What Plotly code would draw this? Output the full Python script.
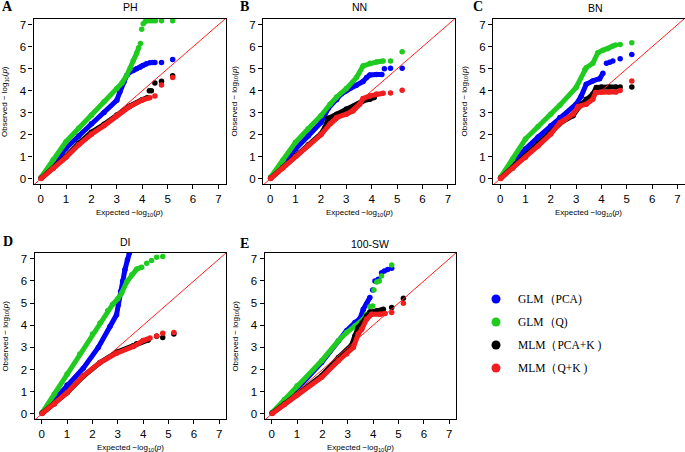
import plotly.graph_objects as go

# ---------------- data ----------------
TRAITS = ["PH", "NN", "BN", "DI", "100-SW"]
LETTERS = ["A", "B", "C", "D", "E"]
MODELS = ["GLM（PCA)", "GLM（Q)", "MLM（PCA+K )", "MLM（Q+K )"]
COLORS = ["#0000FF", "#1FCB1F", "#000000", "#F01E1E"]
TICKS = [0, 1, 2, 3, 4, 5, 6, 7]

# None separates the dense part of a QQ curve from isolated tail points
PH_X_GLM_PCA = [0.02, 0.5, 1, 1.5, 2, 2.5, 3, 3.12, 3.28, 3.39, 3.52, 3.65, 3.78, 3.91, 4.02, 4.17, None, 4.3, None, 4.4, None, 4.5, None, 4.76, None, 5.2]
PH_Y_GLM_PCA = [0.05, 0.68, 1.39, 1.95, 2.51, 3.02, 3.57, 3.95, 4.4, 4.7, 4.85, 4.92, 5.0, 5.07, 5.15, 5.23, None, 5.27, None, 5.28, None, 5.28, None, 5.28, None, 5.42]
PH_X_GLM_Q = [0.02, 0.5, 1, 1.5, 2, 2.5, 3, 3.2, 3.39, 3.52, 3.65, 3.78, 3.86, None, 3.93, None, 3.98, None, 4.04, None, 4.12, None, 4.22, None, 4.32, None, 4.42, None, 4.52, None, 4.76, None, 5.2]
PH_Y_GLM_Q = [0.08, 0.88, 1.69, 2.3, 2.89, 3.5, 4.1, 4.35, 4.7, 5.0, 5.38, 5.7, 5.95, None, 6.15, None, 6.8, None, 7.05, None, 7.15, None, 7.18, None, 7.18, None, 7.18, None, 7.18, None, 7.18, None, 7.18]
PH_X_MLM_PCA_K = [0.02, 0.5, 1, 1.5, 2, 2.5, 3, 3.5, 4, 4.2, None, 4.28, None, 4.36, None, 4.5, None, 4.76, None, 5.2]
PH_Y_MLM_PCA_K = [0.03, 0.5, 1.02, 1.62, 2.12, 2.48, 2.9, 3.3, 3.6, 3.68, None, 4.0, None, 4.0, None, 4.36, None, 4.43, None, 4.68]
PH_X_MLM_Q_K = [0.02, 0.5, 1, 1.5, 2, 2.5, 3, 3.5, 4, 4.3, None, 4.5, None, 4.76, None, 5.2]
PH_Y_MLM_Q_K = [0.02, 0.48, 0.98, 1.55, 2.03, 2.42, 2.86, 3.28, 3.58, 3.69, None, 3.77, None, 4.26, None, 4.6]

NN_X_GLM_PCA = [0.02, 0.5, 1, 1.5, 2, 2.29, 2.62, 2.8, 3.0, 3.4, 3.66, 3.8, 3.93, 4.19, 4.4, None, 4.5, None, 4.74, None, 5.2]
NN_Y_GLM_PCA = [0.05, 0.7, 1.36, 1.95, 2.56, 3.2, 3.6, 3.85, 4.0, 4.25, 4.42, 4.6, 4.72, 4.74, 4.74, None, 5.0, None, 5.02, None, 5.02]
NN_X_GLM_Q = [0.02, 0.5, 1, 1.5, 2, 2.36, 2.62, 3.0, 3.4, 3.66, 3.93, 4.19, 4.45, None, 4.74, None, 5.2]
NN_Y_GLM_Q = [0.08, 0.85, 1.66, 2.28, 2.87, 3.39, 3.72, 4.1, 4.6, 5.13, 5.25, 5.31, 5.35, None, 5.35, None, 5.77]
NN_X_MLM_PCA_K = [0.02, 0.5, 1, 1.5, 2, 2.16, 2.29, 2.62, 3.0, 3.4, 3.66, 3.93, 4.1]
NN_Y_MLM_PCA_K = [0.03, 0.52, 1.06, 1.55, 2.04, 2.34, 2.75, 2.94, 3.17, 3.35, 3.54, 3.62, 3.7]
NN_X_MLM_Q_K = [0.02, 0.5, 1, 1.5, 2, 2.36, 2.62, 3.0, 3.27, 3.53, 3.66, 3.93, 4.19, 4.45, None, 4.74, None, 5.2]
NN_Y_MLM_Q_K = [0.02, 0.5, 1.02, 1.52, 2.0, 2.5, 2.79, 2.94, 3.09, 3.39, 3.65, 3.77, 3.85, 3.89, None, 3.9, None, 4.03]

BN_X_GLM_PCA = [0.02, 0.5, 1, 1.5, 2, 2.36, 3.0, 3.2, 3.4, 3.66, 3.93, 4.06, None, 4.2, None, 4.33, None, 4.45, None, 4.74, None, 5.2]
BN_Y_GLM_PCA = [0.05, 0.68, 1.36, 1.9, 2.41, 2.79, 3.39, 3.75, 4.3, 4.45, 4.55, 4.8, None, 5.25, None, 5.3, None, 5.35, None, 5.45, None, 5.65]
BN_X_GLM_Q = [0.02, 0.5, 1, 1.5, 2, 2.36, 3.0, 3.34, 3.4, 3.66, 3.86, 4.06, 4.25, 4.45, None, 4.56, None, 4.74, None, 5.2]
BN_Y_GLM_Q = [0.08, 0.9, 1.81, 2.38, 2.94, 3.35, 4.15, 4.95, 5.05, 5.25, 5.73, 5.84, 5.91, 6.03, None, 6.08, None, 6.1, None, 6.18]
BN_X_MLM_PCA_K = [0.02, 0.5, 1, 1.5, 2, 2.36, 2.88, 3.14, 3.4, 3.66, 3.8, 4.0, 4.3, 4.58, None, 4.74, None, 5.2]
BN_Y_MLM_PCA_K = [0.03, 0.52, 1.06, 1.6, 2.11, 2.53, 2.87, 3.32, 3.62, 3.85, 4.15, 4.17, 4.17, 4.17, None, 4.17, None, 4.17]
BN_X_MLM_Q_K = [0.02, 0.5, 1, 1.5, 2, 2.36, 2.88, 3.08, 3.4, 3.66, 3.77, 4.0, 4.3, 4.58, None, 4.74, None, 5.2]
BN_Y_MLM_Q_K = [0.02, 0.48, 0.98, 1.5, 2.04, 2.56, 2.94, 3.29, 3.39, 3.62, 3.92, 3.95, 3.95, 3.95, None, 4.02, None, 4.45]

DI_X_GLM_PCA = [0.02, 0.5, 1, 1.64, 2.23, 2.69, 2.95, 3.02, 3.11, 3.19, 3.28, 3.38, 3.45, 3.55]
DI_Y_GLM_PCA = [0.04, 0.65, 1.3, 2.06, 3.0, 3.94, 4.47, 4.92, 5.52, 5.98, 6.5, 6.95, 7.26, 7.6]
DI_X_GLM_Q = [0.02, 0.5, 1, 1.5, 2, 2.3, 2.6, 2.8, 3.0, 3.15, 3.35, 3.55, 3.74, 3.94, None, 4.14, None, 4.33, None, 4.53, None, 4.77]
DI_Y_GLM_Q = [0.06, 0.9, 1.8, 2.7, 3.6, 4.1, 4.65, 4.95, 5.2, 5.45, 5.95, 6.28, 6.53, 6.62, None, 6.8, None, 6.92, None, 7.07, None, 7.1]
DI_X_MLM_PCA_K = [0.02, 0.5, 1, 1.64, 2.3, 2.95, 3.61, 3.74, 4.0, 4.2, None, 4.53, None, 4.77, None, 5.21]
DI_Y_MLM_PCA_K = [0.03, 0.46, 0.96, 1.7, 2.32, 2.78, 3.08, 3.16, 3.3, 3.34, None, 3.5, None, 3.45, None, 3.61]
DI_X_MLM_Q_K = [0.02, 0.5, 1, 1.64, 2.3, 2.95, 3.61, 4.0, 4.27, None, 4.53, None, 4.77, None, 5.21]
DI_Y_MLM_Q_K = [0.02, 0.45, 0.96, 1.72, 2.32, 2.74, 3.04, 3.31, 3.42, None, 3.52, None, 3.64, None, 3.67]

SW_X_GLM_PCA = [0.02, 0.5, 1, 1.97, 2.63, 2.95, 3.28, 3.48, 3.61, 3.74, 3.87, None, 3.98, None, 4.07, None, 4.2, None, 4.33, None, 4.44, None, 4.57, None, 4.73]
SW_Y_GLM_PCA = [0.04, 0.55, 1.12, 2.32, 3.3, 3.75, 4.12, 4.3, 4.72, 4.95, 5.25, None, 5.59, None, 6.0, None, 6.07, None, 6.37, None, 6.45, None, 6.52, None, 6.57]
SW_X_GLM_Q = [0.02, 0.5, 1, 1.97, 2.63, 2.95, 3.28, 3.61, 3.74, None, 3.87, None, 3.98, None, 4.03, None, 4.14, None, 4.24, None, 4.33, None, 4.73]
SW_Y_GLM_Q = [0.06, 0.65, 1.27, 2.4, 3.3, 3.67, 3.97, 4.27, 4.5, None, 4.84, None, 4.87, None, 5.59, None, 5.95, None, 6.0, None, 6.22, None, 6.72]
SW_X_MLM_PCA_K = [0.02, 0.5, 1, 1.97, 2.63, 2.95, 3.15, 3.28, 3.41, 3.55, 3.74, 3.87, 4.14, 4.4, None, 4.73, None, 5.19]
SW_Y_MLM_PCA_K = [0.03, 0.45, 0.9, 1.72, 2.55, 2.85, 3.1, 3.52, 3.9, 4.09, 4.42, 4.6, 4.65, 4.72, None, 4.8, None, 5.22]
SW_X_MLM_Q_K = [0.02, 0.5, 1, 1.97, 2.63, 2.95, 3.22, 3.41, 3.55, 3.74, 3.94, 4.27, 4.47, None, 4.73, None, 5.19]
SW_Y_MLM_Q_K = [0.02, 0.42, 0.85, 1.65, 2.4, 2.7, 3.0, 3.6, 3.82, 4.27, 4.5, 4.5, 4.53, None, 4.57, None, 4.99]

SERIES = [
    [(PH_X_GLM_PCA, PH_Y_GLM_PCA), (PH_X_GLM_Q, PH_Y_GLM_Q), (PH_X_MLM_PCA_K, PH_Y_MLM_PCA_K), (PH_X_MLM_Q_K, PH_Y_MLM_Q_K)],
    [(NN_X_GLM_PCA, NN_Y_GLM_PCA), (NN_X_GLM_Q, NN_Y_GLM_Q), (NN_X_MLM_PCA_K, NN_Y_MLM_PCA_K), (NN_X_MLM_Q_K, NN_Y_MLM_Q_K)],
    [(BN_X_GLM_PCA, BN_Y_GLM_PCA), (BN_X_GLM_Q, BN_Y_GLM_Q), (BN_X_MLM_PCA_K, BN_Y_MLM_PCA_K), (BN_X_MLM_Q_K, BN_Y_MLM_Q_K)],
    [(DI_X_GLM_PCA, DI_Y_GLM_PCA), (DI_X_GLM_Q, DI_Y_GLM_Q), (DI_X_MLM_PCA_K, DI_Y_MLM_PCA_K), (DI_X_MLM_Q_K, DI_Y_MLM_Q_K)],
    [(SW_X_GLM_PCA, SW_Y_GLM_PCA), (SW_X_GLM_Q, SW_Y_GLM_Q), (SW_X_MLM_PCA_K, SW_Y_MLM_PCA_K), (SW_X_MLM_Q_K, SW_Y_MLM_Q_K)],
]

# ---------------- layout (pixel geometry) ----------------
W, H = 685, 452
# plot boxes: (left, right, top, bottom) in pixels
BOXES = [
    (33.5, 225.5, 19, 184),
    (263, 455, 19, 184),
    (493, 684.5, 19, 184),
    (34.6, 226.4, 253, 419),
    (264.6, 456.4, 253, 419),
]
TITLE_POS = [(130, 7.5), (359.5, 7.5), (595, 8), (125.5, 242), (369.5, 244)]
LETTER_POS = [(8, 7), (244, 6), (477.5, 6), (8, 241), (244, 243)]
XR = [-0.28, 7.28]
YR = [-0.23, 7.26]

def px(x):
    return x / W

def py(y):
    return 1 - y / H

fig = go.Figure()
layout = dict(
    width=W, height=H, margin=dict(l=0, r=0, t=0, b=0),
    paper_bgcolor="white", plot_bgcolor="white", showlegend=False,
    annotations=[], shapes=[],
)

SANS = "Liberation Sans, Arial, sans-serif"
SERIF = "Liberation Serif, Times New Roman, serif"

def note(text, x, y, size, family=SANS, angle=0, xanchor="center"):
    return dict(text=text, x=px(x), y=py(y), xref="paper", yref="paper",
                xanchor=xanchor, yanchor="middle", showarrow=False, textangle=angle,
                font=dict(family=family, size=size, color="black"))

for i, (l, r, t, b) in enumerate(BOXES):
    k = "" if i == 0 else str(i + 1)
    xa, ya = "x" + k, "y" + k
    axis_common = dict(
        showgrid=False, zeroline=False, showline=True, linecolor="black",
        linewidth=1.2, mirror=True, ticks="outside", ticklen=4, tickwidth=1,
        tickcolor="black", tickvals=TICKS, tickfont=dict(family=SANS, size=11.5, color="black"),
    )
    layout["xaxis" + k] = dict(axis_common, domain=[px(l), px(r)], range=XR, anchor=ya)
    layout["yaxis" + k] = dict(axis_common, domain=[py(b), py(t)], range=YR, anchor=xa)

    for j, (xs, ys) in enumerate(SERIES[i]):
        fig.add_trace(go.Scatter(
            x=xs, y=ys, mode="lines+markers", xaxis=xa, yaxis=ya,
            line=dict(color=COLORS[j], width=5), connectgaps=False,
            marker=dict(color=COLORS[j], size=5.5), name=MODELS[j], hoverinfo="skip",
        ))
    # 1:1 reference line
    fig.add_trace(go.Scatter(
        x=[XR[0] - 1, XR[1] + 1], y=[XR[0] - 1, XR[1] + 1], mode="lines",
        xaxis=xa, yaxis=ya, line=dict(color="#FF2020", width=1), hoverinfo="skip",
    ))

    cx = (l + r) / 2
    layout["annotations"] += [
        note(TRAITS[i], TITLE_POS[i][0], TITLE_POS[i][1], 10.5),
        note("<b>" + LETTERS[i] + "</b>", LETTER_POS[i][0], LETTER_POS[i][1], 14, family=SERIF),
        note("Expected −log<sub>10</sub>(<i>p</i>)", cx, b + 29, 8),
        note("Observed − log<sub>10</sub>(<i>p</i>)", l - 29, (t + b) / 2, 8, angle=-90),
    ]

# custom legend
LEG_X, LEG_Y0, LEG_DY, LEG_R = 496, 299, 23, 4.5
for j, name in enumerate(MODELS):
    cy = LEG_Y0 + j * LEG_DY
    layout["shapes"].append(dict(
        type="circle", xref="paper", yref="paper",
        x0=px(LEG_X - LEG_R), x1=px(LEG_X + LEG_R), y0=py(cy + LEG_R), y1=py(cy - LEG_R),
        fillcolor=COLORS[j], line=dict(width=0),
    ))
    layout["annotations"].append(note(name, LEG_X + 20, cy, 11.5, family=SERIF, xanchor="left"))

fig.update_layout(**layout)
fig.write_html("out.html", config={"displayModeBar": False},
               post_script="document.body.style.margin='0';")
